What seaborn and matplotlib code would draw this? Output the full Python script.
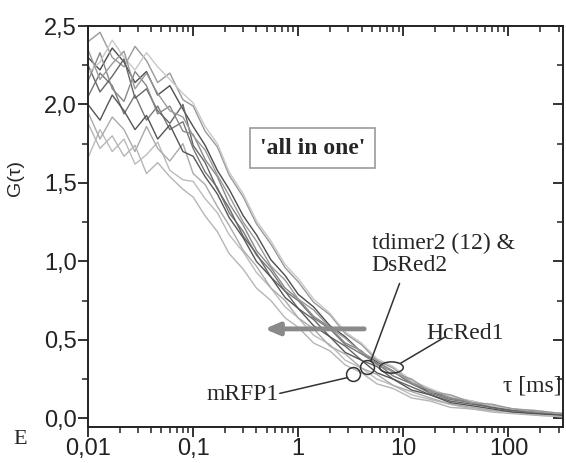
import numpy as np
import pandas as pd
import seaborn as sns
import matplotlib.pyplot as plt
from matplotlib.ticker import FuncFormatter, LogLocator, MultipleLocator, NullFormatter
from matplotlib.path import Path
from matplotlib.transforms import Affine2D

# lag times [ms]
tau = [0.01, 0.013, 0.017, 0.022, 0.028, 0.036, 0.046, 0.06, 0.08, 0.1,
       0.13, 0.17, 0.22, 0.3, 0.4, 0.55, 0.75, 1.0, 1.4, 2.0,
       2.8, 4.0, 5.6, 8, 12, 18, 28, 45, 70, 110, 180, 330]

# G(tau) curves
g_a = [2.30, 2.22, 2.36, 2.27, 2.14, 2.21, 2.06, 2.12, 1.97, 1.86, 1.74, 1.58, 1.46, 1.29, 1.17, 1.01,
       0.91, 0.79, 0.71, 0.59, 0.52, 0.42, 0.36, 0.30, 0.22, 0.17, 0.13, 0.10, 0.07, 0.05, 0.04, 0.02]
g_b = [2.05, 2.20, 2.12, 1.94, 2.06, 1.90, 1.99, 1.84, 1.89, 1.72, 1.57, 1.47, 1.31, 1.19, 1.04, 0.94,
       0.81, 0.75, 0.64, 0.57, 0.47, 0.41, 0.35, 0.27, 0.22, 0.16, 0.12, 0.10, 0.07, 0.05, 0.04, 0.03]
g_c = [1.66, 1.84, 1.70, 1.78, 1.62, 1.68, 1.76, 1.58, 1.52, 1.51, 1.40, 1.31, 1.17, 1.06, 0.93, 0.83,
       0.71, 0.64, 0.53, 0.47, 0.37, 0.32, 0.25, 0.21, 0.15, 0.12, 0.09, 0.06, 0.05, 0.04, 0.02, 0.01]
g_d = [2.40, 2.46, 2.30, 2.24, 2.37, 2.28, 2.14, 2.20, 2.03, 1.99, 1.83, 1.73, 1.55, 1.41, 1.24, 1.11,
       0.96, 0.87, 0.74, 0.66, 0.54, 0.47, 0.37, 0.32, 0.23, 0.18, 0.13, 0.11, 0.08, 0.06, 0.04, 0.03]
g_e = [2.25, 2.08, 2.18, 2.29, 2.04, 2.10, 1.96, 1.88, 2.00, 1.74, 1.63, 1.46, 1.34, 1.16, 1.05, 0.90,
       0.81, 0.70, 0.63, 0.52, 0.46, 0.37, 0.33, 0.25, 0.20, 0.15, 0.11, 0.09, 0.07, 0.05, 0.03, 0.02]
g_f = [1.95, 1.78, 1.92, 1.84, 1.70, 1.86, 1.72, 1.64, 1.75, 1.56, 1.49, 1.35, 1.23, 1.07, 0.97, 0.83,
       0.75, 0.64, 0.57, 0.46, 0.41, 0.32, 0.28, 0.21, 0.17, 0.13, 0.09, 0.07, 0.05, 0.04, 0.03, 0.02]
g_g = [2.15, 2.33, 2.10, 2.02, 2.21, 2.12, 1.94, 1.99, 1.83, 1.81, 1.65, 1.54, 1.37, 1.23, 1.07, 0.96,
       0.83, 0.76, 0.65, 0.58, 0.48, 0.43, 0.34, 0.30, 0.22, 0.18, 0.13, 0.10, 0.08, 0.06, 0.04, 0.03]
g_h = [2.20, 2.27, 2.41, 2.30, 2.22, 2.33, 2.24, 2.16, 2.07, 2.01, 1.86, 1.75, 1.57, 1.43, 1.26, 1.13,
       0.98, 0.89, 0.76, 0.67, 0.55, 0.48, 0.38, 0.33, 0.24, 0.19, 0.14, 0.11, 0.08, 0.06, 0.05, 0.03]
g_i = [2.00, 1.90, 2.06, 1.96, 1.84, 1.93, 1.78, 1.87, 1.70, 1.67, 1.54, 1.43, 1.28, 1.15, 1.00, 0.90,
       0.77, 0.70, 0.59, 0.52, 0.42, 0.37, 0.29, 0.25, 0.18, 0.15, 0.10, 0.08, 0.06, 0.04, 0.03, 0.02]
g_j = [1.88, 1.72, 1.80, 1.67, 1.74, 1.56, 1.63, 1.54, 1.46, 1.41, 1.29, 1.19, 1.05, 0.95, 0.83, 0.75,
       0.64, 0.58, 0.48, 0.43, 0.34, 0.29, 0.22, 0.19, 0.13, 0.11, 0.07, 0.06, 0.04, 0.03, 0.02, 0.01]
g_k = [2.35, 2.16, 2.26, 2.34, 2.10, 2.20, 2.07, 1.96, 1.92, 1.80, 1.71, 1.55, 1.42, 1.25, 1.13, 0.97,
       0.88, 0.76, 0.69, 0.58, 0.51, 0.42, 0.37, 0.29, 0.25, 0.17, 0.15, 0.10, 0.09, 0.06, 0.05, 0.03]

curves = {'a': g_a, 'b': g_b, 'c': g_c, 'd': g_d, 'e': g_e, 'f': g_f,
          'g': g_g, 'h': g_h, 'i': g_i, 'j': g_j, 'k': g_k}
grays = ['#4d4d4d', '#777777', '#bbbbbb', '#999999', '#666666', '#aaaaaa',
         '#888888', '#c8c8c8', '#555555', '#b5b5b5', '#9a9a9a']

df = pd.DataFrame([(name, t, g) for name, vals in curves.items() for t, g in zip(tau, vals)],
                  columns=['curve', 'tau', 'G'])

sns.set_theme(style='ticks')
plt.rcParams['font.family'] = ['Liberation Sans', 'DejaVu Sans']

fig = plt.figure(figsize=(5.66, 4.63), dpi=100)
ax = fig.add_axes([0.1555, 0.0778, 0.8392, 0.866])

sns.lineplot(data=df, x='tau', y='G', hue='curve', palette=grays, estimator=None,
             sort=False, legend=False, linewidth=1.0, ax=ax)

ax.set_xscale('log')
ax.set_xlim(0.01, 330)
ax.set_ylim(-0.055, 2.5)

ax.xaxis.set_major_locator(LogLocator(base=10, numticks=10))
ax.xaxis.set_minor_locator(LogLocator(base=10, subs=np.arange(2, 10), numticks=20))
ax.xaxis.set_minor_formatter(NullFormatter())
ax.xaxis.set_major_formatter(FuncFormatter(lambda v, p: f'{v:g}'.replace('.', ',')))
ax.yaxis.set_major_locator(MultipleLocator(0.5))
ax.yaxis.set_minor_locator(MultipleLocator(0.25))
ax.yaxis.set_major_formatter(FuncFormatter(lambda v, p: f'{v:.1f}'.replace('.', ',')))

for s in ax.spines.values():
    s.set_linewidth(1.4)
    s.set_color('#222222')
ax.tick_params(axis='both', which='major', labelsize=17, length=7, width=1.3, pad=1, colors='#222222')
ax.tick_params(axis='both', which='minor', length=4, width=1.1, colors='#222222')
ax.tick_params(top=True, right=True, which='both')
ax.xaxis.set_tick_params(which='both', direction='out')
ax.yaxis.set_tick_params(which='both', direction='out')
# top / right ticks point inward
for t in ax.xaxis.get_major_ticks() + ax.xaxis.get_minor_ticks():
    t.tick2line.set_marker(3)
for t in ax.yaxis.get_major_ticks() + ax.yaxis.get_minor_ticks():
    t.tick2line.set_marker(0)

ax.set_xlabel('')
ax.set_ylabel('G(τ)', fontsize=14, family=['Liberation Sans', 'DejaVu Sans'])
ax.yaxis.set_label_coords(-0.135, 0.62)

serif = ['Liberation Serif', 'DejaVu Serif']

ax.text(1.37, 1.72, "'all in one'", family=serif, fontsize=17, fontweight='bold',
        ha='center', va='center',
        bbox=dict(boxstyle='square,pad=0.4', fc='white', ec='#999999', lw=1.2))

# arrow pointing to shorter times
ax.annotate('', xy=(0.45, 0.57), xytext=(4.5, 0.57),
            arrowprops=dict(arrowstyle='-|>,head_length=0.7,head_width=0.3',
                            color='#8a8a8a', lw=3.5))

# ellipses marking the curves
ring = Path.unit_circle()
wide = ring.transformed(Affine2D().scale(2.1, 1.0))
ax.plot([3.34], [0.28], marker='o', ms=10, mfc='none', mec='#333333', mew=1.1)
ax.plot([4.54], [0.325], marker='o', ms=10, mfc='none', mec='#333333', mew=1.1)
ax.plot([7.7], [0.325], marker=wide, ms=17, mfc='none', mec='#333333', mew=1.1)

ax.plot([0.667, 2.95], [0.159, 0.26], color='#333333', lw=1.1)
ax.plot([9.2, 4.89], [0.86, 0.364], color='#333333', lw=1.1)
ax.plot([24.7, 9.4], [0.517, 0.351], color='#333333', lw=1.1)

ax.text(5.0, 1.045, 'tdimer2 (12) &\nDsRed2', family=serif, fontsize=17,
        ha='left', va='center', linespacing=1.1)
ax.text(39, 0.54, 'HcRed1', family=serif, fontsize=17, ha='center', va='center')
ax.text(0.297, 0.15, 'mRFP1', family=serif, fontsize=17, ha='center', va='center')
ax.text(169, 0.204, 'τ [ms]', family=serif, fontsize=17, ha='center', va='center')

fig.text(0.035, 0.05, 'E', family=serif, fontsize=16, ha='center', va='center')

plt.savefig('out.png', dpi=100)
